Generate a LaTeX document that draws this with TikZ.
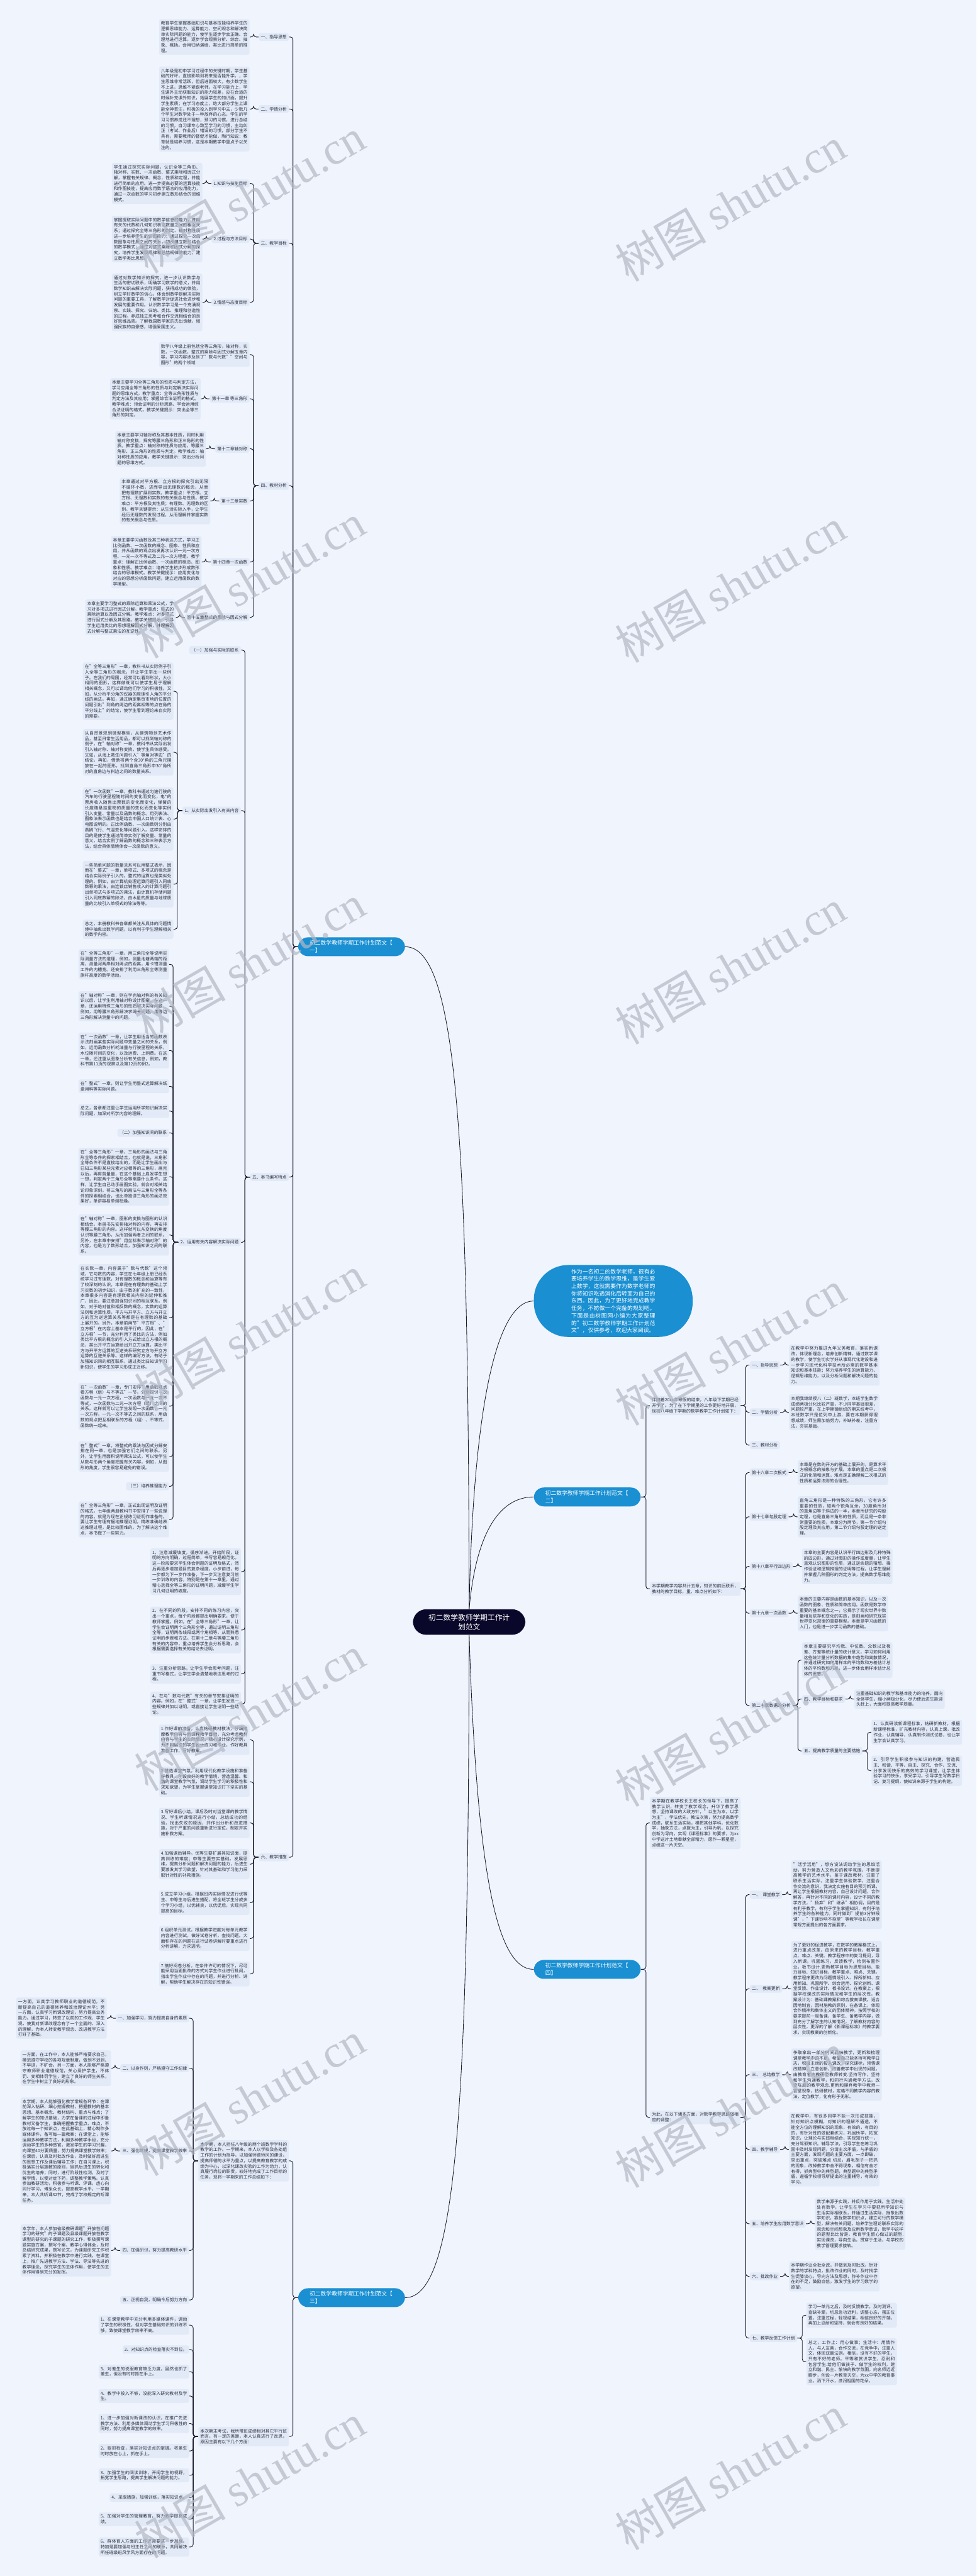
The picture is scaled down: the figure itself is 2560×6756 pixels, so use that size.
\documentclass[tikz,border=0pt]{standalone}
\usepackage{fontspec}
\setmainfont{Noto Sans CJK SC}
\newfontfamily\wmlatin{Liberation Serif}
\XeTeXlinebreaklocale "zh"
\XeTeXlinebreakskip=0pt plus 0.3pt
\usetikzlibrary{calc}
\definecolor{bgc}{RGB}{239,244,253}
\definecolor{boxc}{RGB}{226,234,248}
\definecolor{linec}{RGB}{28,28,48}
\definecolor{txtc}{RGB}{45,45,58}
\definecolor{bluec}{RGB}{26,143,210}
\definecolor{navyc}{RGB}{10,8,42}
\definecolor{wmc}{RGB}{178,183,196}
\newcommand\tfont{\fontsize{3.21pt}{4.09pt}\selectfont\tolerance=10000\hbadness=10000}
\tikzset{
 txt/.style={fill=boxc, rounded corners=0.05cm, text width=2.27cm, align=justify, inner xsep=0.05cm, inner ysep=0.055cm, font=\tfont, text=txtc},
 txs/.style={fill=boxc, rounded corners=0.05cm, inner xsep=0.05cm, inner ysep=0.055cm, font=\tfont, text=txtc},
 lab/.style={fill=boxc, rounded corners=0.05cm, inner xsep=0.055cm, inner ysep=0.05cm, font=\tfont, text=txtc},
 conn/.style={draw=linec, line width=0.45pt, rounded corners=0.07cm},
 mainc/.style={draw=linec, line width=0.4pt},
 bnode/.style={fill=bluec, text=white, rounded corners=0.26cm, text width=2.2cm, align=left, inner xsep=0.3cm, inner ysep=0.08cm, font={\fontsize{4.12pt}{5.69pt}\selectfont}},
 cnode/.style={fill=navyc, text=white, rounded corners=0.35cm, align=center, inner xsep=0.41cm, inner ysep=0.12cm, font={\fontsize{5.5pt}{7.1pt}\selectfont}},
 inode/.style={fill=bluec, text=white, rounded corners=0.9cm, text width=2.2cm, align=justify, inner xsep=0.98cm, inner ysep=0.1cm, font={\fontsize{4.14pt}{5.5pt}\selectfont\tolerance=10000}},
 wm/.style={rotate=30, text=wmc, opacity=0.7, font={\fontsize{34pt}{34pt}\selectfont}}
}
\newcommand\kidL[5]{%
  \path (#1.west) ++(-23,0) coordinate (q#2);
  \node[#4, anchor=east] (#2) at (q#2 |- 0,#3) {#5};
  \draw[conn] (#1.west) -- ++(-13,0) |- (#2.east);
}
\newcommand\kidR[5]{%
  \path (#1.east) ++(23,0) coordinate (q#2);
  \node[#4, anchor=west] (#2) at (q#2 |- 0,#3) {#5};
  \draw[conn] (#1.east) -- ++(13,0) |- (#2.west);
}
\begin{document}
\begin{tikzpicture}[x=0.01cm, y=-0.01cm]
\fill[bgc] (0,0) rectangle (2560,6756);
\useasboundingbox (0,0) rectangle (2560,6756);

% main nodes
\node[cnode] (C) at (1230,4254) {初二数学教师学期工作计\\划范文};
\node[bnode, anchor=west] (B1) at (781,2483) {初二数学教师学期工作计划范文【\\一】};
\node[inode, anchor=west] (I) at (1399,3412) {作为一名初二的数学老师，很有必要培养学生的数学思维，是学生爱上数学，这就需要作为数学老师的你将知识吃透消化后转变为自己的东西。因此，为了更好地完成教学任务，不妨做一个完备的规划吧。下面是由树图网小编为大家整理的"初二数学教师学期工作计划范文"，仅供参考，欢迎大家阅读。};
\node[bnode, anchor=west] (B2) at (1399,3926) {初二数学教师学期工作计划范文【\\二】};
\node[bnode, anchor=west] (B4) at (1399,5165) {初二数学教师学期工作计划范文【\\四】};
\node[bnode, anchor=west] (B3) at (781,6026) {初二数学教师学期工作计划范文【\\三】};

\draw[mainc] (C.north) .. controls (1228,3000) and (1200,2483) .. (B1.east);
\draw[mainc] (C.north) .. controls (1240,3700) and (1300,3412) .. (I.west);
\draw[mainc] (C.north) .. controls (1250,4000) and (1320,3926) .. (B2.west);
\draw[mainc] (C.south) .. controls (1250,4900) and (1300,5165) .. (B4.west);
\draw[mainc] (C.south) .. controls (1228,5500) and (1200,6026) .. (B3.east);

% ===== branch 1 =====
\kidL{B1}{La}{97}{lab}{一、指导思想}
\kidL{La}{Ta}{97}{txt}{教育学生掌握基础知识与基本技能培养学生的逻辑思维能力、运算能力、空间观念和解决简单实际问题的能力，使学生逐步学会正确、合理地进行运算，逐步学会观察分析、综合、抽象、概括。会用归纳演绎、类比进行简单的推理。}
\kidL{B1}{Lb}{286}{lab}{二、学情分析}
\kidL{Lb}{Tb}{286}{txt}{八年级是初中学习过程中的关键时期，学生基础的好坏，直接影响到将来是否能升学。，学生思维非常活跃，但后进面较大，有少数学生不上进，思维不紧跟老师。在学习能力上，学生课外主动获取知识的能力较差，应在合适的时候补充课外知识，拓展学生的知识面，提升学生素质；在学习态度上，绝大部分学生上课能全神贯注，积极的投入到学习中去，少数几个学生对数学处于一种放弃的心态，学生的学习习惯养成还不理想，预习的习惯，进行总结的习惯，自习课专心致至学习的习惯，主动纠正（考试、作业后）错误的习惯，部分学生不具有，需要教师的督促才能做，陶行知说：教育就是培养习惯，这是本期教学中重点予以关注的。}
\kidL{B1}{Lc}{638}{lab}{三、教学目标}
\kidL{Lc}{Lca}{481}{lab}{1.知识与技能目标}
\kidL{Lca}{Tca}{481}{txt}{学生通过探究实际问题，认识全等三角形、轴对称、实数、一次函数、整式乘除和因式分解，掌握有关规律、概念、性质和定理，并能进行简单的应用。进一步提高必要的运算技能和作图技能，提高应用数学语言的应用能力，通过一次函数的学习初步建立数形结合的思维模式。}
\kidL{Lc}{Lcb}{627}{lab}{2.过程与方法目标}
\kidL{Lcb}{Tcb}{627}{txt}{掌握提取实际问题中的数学信息的能力，并用有关的代数和几何知识表达数量之间的相互关系；通过探究全等三角形的判定、轴对称性质进一步培养学生的识图能力；通过探究一次函数图象与性质之间的关系，初步建立数形结合的数学模式；通过对整式乘除和因式分解的探究，培养学生发现规律和总结规律的能力，建立数学类比思想。}
\kidL{Lc}{Lcc}{793}{lab}{3.情感与态度目标}
\kidL{Lcc}{Tcc}{793}{txt}{通过对数学知识的探究，进一步认识数学与生活的密切联系，明确学习数学的意义，并用数学知识去解决实际问题，获得成功的体验，树立学好数学的信心。体会到数学是解决实际问题的重要工具，了解数学对促进社会进步和发展的重要作用。认识数学学习是一个充满观察、实践、探究、归纳、类比、推理和创造性的过程。养成独立思考和合作交流相结合的良好思维品质。了解我国数学家的杰出贡献，增强民族的自豪感，增强爱国主义。}
\kidL{B1}{Ld}{1274}{lab}{四、教材分析}
\kidL{Ld}{Td}{930}{txt}{数学八年级上册包括全等三角形，轴对称，实数，一次函数，整式的乘除与因式分解五章内容，学习内容涉及到了"数与代数""空间与图形"的两个领域}
\kidL{Ld}{Lda}{1046}{lab}{第十一章 等三角形}
\kidL{Lda}{Tda}{1046}{txt}{本章主要学习全等三角形的性质与判定方法，学习应用全等三角形的性质与判定解决实际问题的思维方式。教学重点：全等三角形性质与判定方法及其应用；掌握综合法证明的格式。教学难点：领会证明的分析思路、学会运用综合法证明的格式。教学关键提示：突出全等三角形的判定。}
\kidL{Ld}{Ldb}{1177}{lab}{第十二章轴对称}
\kidL{Ldb}{Tdb}{1177}{txt}{本章主要学习轴对称及其基本性质，同时利用轴对称变换，探究等腰三角形和正三角形的性质。教学重点：轴对称的性质与应用，等腰三角形、正三角形的性质与判定。教学难点：轴对称性质的应用。教学关键提示：突出分析问题的思维方式。}
\kidL{Ld}{Ldc}{1314}{lab}{第十三章实数}
\kidL{Ldc}{Tdc}{1314}{txt}{本章通过对平方根、立方根的探究引出无限不循环小数，进而导出无理数的概念，从而把有理数扩展到实数。教学重点：平方根、立方根、无理数和实数的有关概念与性质。教学难点：平方根及其性质；有理数、无理数的区别。教学关键提示：从生活实际入手，让学生经历无理数的发现过程，从而理解并掌握实数的有关概念与性质。}
\kidL{Ld}{Ldd}{1474}{lab}{第十四章一次函数}
\kidL{Ldd}{Tdd}{1474}{txt}{本章主要学习函数及其三种表达方式，学习正比例函数、一次函数的概念、图象、性质和应用，并从函数的观点出发再次认识一元一次方程、一元一次不等式及二元一次方程组。教学重点：理解正比例函数、一次函数的概念、图象和性质。教学难点：培养学生初步形成数形结合的思维模式。教学关键提示：应用变化与对应的思想分析函数问题，建立运用函数的数学模型。}
\kidL{Ld}{Lde}{1619}{lab}{第十五章整式的乘除与因式分解}
\kidL{Lde}{Tde}{1619}{txt}{本章主要学习整式的乘除运算和乘法公式，学习对多项式进行因式分解。教学重点：整式的乘除运算以及因式分解。教学难点：对多项式进行因式分解及其思路。教学关键提示：引导学生运用类比的思想理解因式分解，并理解因式分解与整式乘法的互逆性。}

\kidL{B1}{Le}{3087}{lab}{五、本书编写特点}
\kidL{Le}{Lea}{1705}{lab}{（一）加强与实际的联系}
\kidL{Le}{Leb}{2126}{lab}{1、从实际出发引入有关内容}
\kidL{Leb}{Teb1}{1813}{txt}{在"全等三角形"一章，教科书从实际例子引入全等三角形的概念，并让学生举出一些例子。在我们的周围，经常可以看到形状，大小相同的图形，这样做既可以使学生易于理解相关概念，又可以调动他们学习的积极性。又如，从分析平分角的仪器的原理引入角的平分线的画法。再如，通过确定集贸市场的位置的问题引出"到角的两边的距离相等的点在角的平分线上"的结论，使学生看到理论来自实际的需要。}
\kidL{Leb}{Teb2}{1973}{txt}{从自然景观到微型模型，从建筑物到艺术作品，甚至日常生活用品，都可以找到轴对称的例子，在"轴对称"一章，教科书从实际出发引入轴对称、轴对称变换，使学生具体感受。又如，从海上救生问题引入"等角对等边"的结论。再如，借助将两个含30°角的三角尺摆放在一起的图形，找到直角三角形中30°角所对的直角边与斜边之间的数量关系。}
\kidL{Leb}{Teb3}{2148}{txt}{在"一次函数"一章，教科书通过匀速行驶的汽车的行驶里程随时间的变化而变化，电*的票房收入随售出票数的变化而变化，弹簧的长度随悬挂重物的质量的变化而变化等实例引入变量、常量以及函数的概念。用列表法、图象法表示函数也是结合中国人口统计表、心电图说明的。正比例函数、一次函数则分别由燕鸥飞行、气温变化等问题引入。这样安排的目的是使学生通过简单实例了解变量、常量的意义，结合实例了解函数的概念和三种表示方法，结合具体情境体会一次函数的意义。}
\kidL{Leb}{Teb4}{2319}{txt}{一些简单问题的数量关系可以用整式表示，因而在"整式"一章，单项式、多项式的概念是结合实际例子引入的。整式的运算也是类似处理的。例如，由计算机处理运算问题引入同底数幂的乘法，由连锁店销售收入的计算问题引出单项式与多项式的乘法，由计算机存储问题引入同底数幂的除法，由木星的质量与地球质量的比较引入单项式的除法等等。}
\kidL{Leb}{Teb5}{2437}{txt}{总之，本册教科书各章都关注从具体的问题情境中抽象出数学问题，以有利于学生理解相关的数学内容。}
\kidL{Le}{Lec}{3258}{lab}{2、运用有关内容解决实际问题}
\kidL{Lec}{Tec1}{2529}{txt}{在"全等三角形"一章，用三角形全等说明实际测量方法的道理，例如，测量池塘两端的距离，测量河两岸相对两点的距离，用卡钳测量工件的内槽宽。还安排了利用三角形全等测量旗杆高度的数学活动。}
\kidL{Lec}{Tec2}{2639}{txt}{在"轴对称"一章，则在学完轴对称的有关知识以后，让学生利用轴对称设计图案。在这一章，还运用特殊三角形的性质解决实际问题，例如，用等腰三角形解决求绳长问题，用等边三角形解决测量中的问题。}
\kidL{Lec}{Tec3}{2755}{txt}{在"一次函数"一章，让学生用适当的函数表示法刻画某些实际问题中变量之间的关系，例如，运用函数分析耗油量与行驶里程的关系，水位随时间的变化，以及运费、上网费。在这一章，还注重从图象分析有关信息，例如，教科书第11页的观察以及第12页的例2。}
\kidL{Lec}{Tec4}{2849}{txt}{在"整式"一章，则让学生用整式运算解决纸盒用料等实际问题。}
\kidL{Lec}{Tec5}{2914}{txt}{总之，各章都注重让学生运用所学知识解决实际问题，加深对所学内容的理解。}
\kidL{Lec}{Lec6}{2971}{lab}{（二）加强知识间的联系}
\kidL{Lec}{Tec7}{3086}{txt}{在"全等三角形"一章，三角形的画法与三角形全等条件的探索相结合，也就是说，三角形全等条件不是直接给出的，而是让学生画出与已知三角形某些元素对应相等的三角形，画完以后，再剪剪量量，在这个基础上启发学生想一想，判定两个三角形全等需要什么条件。这样，让学生自己动手画图实验，就会对相关结论印象深刻。将三角形的画法与三角形全等条件的探索相结合，也比单独讲三角形的画法效果好，单讲容易单调枯燥。}
\kidL{Lec}{Tec8}{3239}{txt}{在"轴对称"一章，图形的变换与图形的认识相结合。本册书先安排轴对称的内容，再安排等腰三角形的内容。这样就可以从变换的角度认识等腰三角形，从而加强两者之间的联系。另外，在本章中安排"用坐标表示轴对称"的内容，也是为了数形结合，加强知识之间的联系。}
\kidL{Lec}{Tec9}{3456}{txt}{在实数一章，内容属于"数与代数"这个领域，它与数的内容，学生在七年级上册已经系统学习过有理数，对有理数的概念和运算等有了较深刻的认识，本章是在有理数的基础上学习实数的初步知识，由于数的扩充的一致性，本章很多内容是有理数相关内容的延伸和推广，因此，要注意加强知识间的相互联系。例如，对于绝对值和相反数的概念，实数的运算法则和运算性质，平方与开平方、立方与开立方的互为逆运算关系等都是在有理数的基础上展开的。另外，本章前两节"平方根"、"立方根"在内容上基本是平行的，因此，在"立方根"一节，充分利用了类比的方法，例如类比平方根的概念的引入方式给出立方根的概念，类比开平方运算给出开立方运算，类比平方与开平方运算的互逆关系研究立方与开立方运算的互逆关系等。这样的编写方法，有助于加强知识间的相互联系，通过类比旧知识学习新知识，使学生的学习形成正迁移。}
\kidL{Lec}{Tec10}{3688}{txt}{在"一次函数"一章，专门安排"用函数观点看方程（组）与不等式"一节，分别探讨一次函数与一元一次方程，一次函数与一元一次不等式，一次函数与二元一次方程（组）之间的关系。这样就可以让学生发现一次函数，一元一次方程，一元一次不等式之间的联系，用函数的观点把互相联系的方程（组）、不等式、函数统一起来。}
\kidL{Lec}{Tec11}{3820}{txt}{在"整式"一章，将整式的乘法与因式分解安排在同一章，也是加强它们之间的联系。另外，让学生用面积说明乘法公式，可以使学生从数与形两个角度把握有关内容，例如，从图形的角度，学生很容易避免的错误。}
\kidL{Lec}{Lec12}{3898}{lab}{（三）培养推理能力}
\kidL{Lec}{Tec13}{3985}{txt}{在"全等三角形"一章，正式出现证明及证明的格式。七年级两册教科书中安排了一些说理的内容，就是为现在正规练习证明作准备的。要让学生有理有据地推理证明，精练准确地表达推理过程，是比较困难的。为了解决这个难点，本书做了一些努力。}
\kidL{Le}{Ted1}{4122}{txt}{1、注意减缓坡度，循序渐进。开始阶段，证明的方向明确，过程简单，书写容易规范化。这一阶段要求学生体会例题的证明及格式，然后再逐步增加题目的复杂程度，小步前进，每一步都为下一步作准备，下一步又注意复习前一步训练的内容。特别是在第十一章里，通过精心选择全等三角形的证明问题，减缓学生学习几何证明的坡度。}
\kidL{Le}{Ted2}{4275}{txt}{2、在不同的阶段，安排不同的练习内容，突出一个重点，每个阶段都提出明确要求，便于教师掌握。例如，在"全等三角形"一章，让学生会证明两个三角形全等，通过证明三角形全等，证明两条线段或两个角相等，从而熟悉证明的步骤和方法。在第十二章与等腰三角形有关的内容中，重点培养学生会分析思路，会根据需要选择有关的结论去证明。}
\kidL{Le}{Ted3}{4390}{txt}{3、注重分析思路，让学生学会思考问题，注重书写格式，让学生学会清楚地表达思考的过程。}
\kidL{Le}{Ted4}{4469}{txt}{4、在与"数与代数"有关的章节安排证明的内容。例如，在"整式"一章，让学生发现一些规律并加以证明，或直接让学生证明一些结论。}

\kidL{B1}{Lf}{4871}{lab}{六、教学措施}
\kidL{Lf}{Tf1}{4563}{txt}{1.作好课前准备。认真钻研教材教法，仔细揣摩教学内容与新课程教学目标，充分考虑教材内容与学生的实际情况，精心设计探究示例，为不同层次的学生设计练习和作业，作好教具准备工作，写好教案。}
\kidL{Lf}{Tf2}{4673}{txt}{2.营造课堂气氛。利用现代化教学设施和准备好教具，创设良好的教学情境，营造温馨、和谐的课堂教学气氛，调动学生学习的积极性和求知欲望，为学生掌握课堂知识打下坚实的基础。}
\kidL{Lf}{Tf3}{4781}{txt}{3.写好课后小结。课后及时对当堂课的教学情况、学生听课情况进行小结，总结成功的经验，找出失败的原因，并作出分析和改进措施，对于严重的问题重新进行定位，制定并实施补救方案。}
\kidL{Lf}{Tf4}{4889}{txt}{4.加强课后辅导。优等生要扩展其知识面，提高训练的难度；中等生要夯实基础，发展思维，提高分析问题和解决问题的能力，后进生要激发其学习欲望，针对其基础和学习能力采取针对性的补救措施。}
\kidL{Lf}{Tf5}{4990}{txt}{5.成立学习小组。根据班内实际情况进行优等生、中等生与后进生搭配，将全班学生分成多个学习小组，以优辅良，以优促后，实现共同提高的目标。}
\kidL{Lf}{Tf6}{5084}{txt}{6.组织单元测试。根据教学进度对每单元教学内容进行测试，做好试卷分析，查找问题。大面积存在的问题在进行试卷讲解时要重点进行分析讲解，力求透彻。}
\kidL{Lf}{Tf7}{5177}{txt}{7.搞好阅卷分析。在条件许可的情况下，尽可能采用当面批改的方式对学生作业进行批阅，指出学生作业中存在的问题，并进行分析、讲解，帮助学生解决存在的知识性错误。}

% ===== branch 2 =====
\kidR{B2}{Ha}{3686}{txt}{伴随着20xx年寒假的结束，八年级下学期已经开学了。为了在下学期里的工作更好地开展，现将八年级下学期的数学教学工作计划如下：}
\kidR{Ha}{Ha1}{3580}{lab}{一、指导思想}
\kidR{Ha1}{Tha1}{3580}{txt}{在教学中努力推进九年义务教育，落实新课改，体现新理念，培养创新精神。通过数学课的教学，使学生切实学好从事现代化建设和进一步学习现代化科学技术所必需的数学基本知识和基本技能；努力培养学生的运算能力、逻辑思维能力，以及分析问题和解决问题的能力。}
\kidR{Ha}{Ha2}{3704}{lab}{二、学情分析}
\kidR{Ha2}{Tha2}{3704}{txt}{本期我继续授八（二）班数学，本班学生数学成绩两极分化比较严重，不少同学基础很差，问题较严重。在上学期镇组织的期末统考中，本班数学只是位列中上游，要在本期获得理想成绩，师生需加倍努力，补缺补差，注重方法，夯实基础。}
\kidR{Ha}{Ha3}{3790}{lab}{三、教材分析}
\kidR{B2}{Hb}{4167}{txt}{本学期教学内容共计五章，知识的前后联系，教材的教学目标，重、难点分析如下：}
\kidR{Hb}{Hb1}{3862}{lab}{第十六章二次根式}
\kidR{Hb1}{Thb1}{3862}{txt}{本章是在数的开方的基础上展开的，是算术平方根概念的抽象与扩展。本章的重点是二次根式的化简和运算，难点是正确理解二次根式的性质和运算法则的合理性。}
\kidR{Hb}{Hb2}{3978}{lab}{第十七章勾股定理}
\kidR{Hb2}{Thb2}{3978}{txt}{直角三角形是一种特殊的三角形，它有许多重要的性质，如两个锐角互余，30度角所对的直角边等于斜边的一半，本章所研究的勾股定理，也是直角三角形的性质，而且是一条非常重要的性质，本章分为两节，第一节介绍勾股定理及其应用，第二节介绍勾股定理的逆定理。}
\kidR{Hb}{Hb3}{4108}{lab}{第十八章平行四边形}
\kidR{Hb3}{Thb3}{4108}{txt}{本章的主要内容是认识平行四边形及几种特殊的四边形，通过对图形的操作或度量，让学生直观认识图形的性质，通过逆命题的猜想、操作验证和逻辑推理的证明等过程，让学生理解并掌握几种图形的判定方法，提高数学思维能力。}
\kidR{Hb}{Hb4}{4231}{lab}{第十九章一次函数}
\kidR{Hb4}{Thb4}{4231}{txt}{本章的主要内容是函数的基本知识，以及一次函数的图象、性质和简单应用。函数是数学中重要的基本概念之一，它揭示了现实世界中数量相互依存和变化的实质，是刻画和研究现实世界变化规律的重要模型。本章是学习函数的入门，也是进一步学习函数的基础。}
\kidR{Hb}{Hb5}{4473}{lab}{第二十章数据的分析}
\kidR{Hb5}{Thb5}{4354}{txt}{本章主要研究平均数、中位数、众数以及极差、方差等统计量的统计意义，学习如何利用这些统计量分析数据的集中趋势和离散情况，并通过研究如何用样本的平均数和方差估计总体的平均数和方差，进一步体会用样本估计总体的思想。}
\kidR{Hb5}{Hb5a}{4456}{lab}{四、教学目标和要求}
\kidR{Hb5a}{Thb5a}{4456}{txt}{注重基础知识的教学和基本能力的培养，面向全体学生，缩小两极分化，尽力使后进生能迎头赶上，大面积提高教学质量。}
\kidR{Hb5}{Hb5b}{4592}{lab}{五、提高教学质量的主要措施}
\kidR{Hb5b}{Thb5b}{4543}{txt}{1、认真研读新课程标准，钻研新教材，根据新课程标准，扩充教材内容，认真上课，批改作业，认真辅导，认真制作测试试卷，也让学生学会认真学习。}
\kidR{Hb5b}{Thb5c}{4644}{txt}{2、引导学生积极参与知识的构建，营造民主、和谐、平等、自主、探究、合作、交流、分享发现快乐的高效的学习课堂，让学生体验学习的快乐，享受学习。引导学生写数学日记、复习提纲，使知识来源于学生的构建。}

% ===== branch 4 (right bottom) =====
\kidR{B4}{Ka}{4781}{txt}{本学期在教学校长王校长的领导下，提高了教学认识，转变了教学观念，升华了教学思想，坚持课改的大政方针，"以生为本，以学为主"，学法优先，教法次第，努力提高数学成绩，联系生活实际，横贯其他学科，优化数学，抽象方法，点拨为主，引导为帆，以探究创新为导向，实现《课程标准》的要求，为xx中学这片土地奉献全部精力，愿作一颗星星，点缀这一片天空。}
\kidR{B4}{Kb}{5553}{txt}{为此，在以下诸多方面，对数学教学思路做相应的调整：}
\kidR{Kb}{Kb1}{4969}{lab}{一、\enspace 课堂教学}
\kidR{Kb1}{Tkb1}{4969}{txt}{"活学活用"，想方设法调动学生的思维活动，努力营造人文色彩的教学氛围，不断提高教学的艺术水平。鉴于课改教材，注重了联系生活实际，注重学生体验数学，注重合作交流的意识，我决定实施有目的预习新课，再让学生根据教材内容，自己设计问题，合作解答，再针对不同的课时内容，设计不同的教学方法，"扬弃"和"继承"相协调，目的是有利于教学，有利于学生掌握知识，有利于培养学生的各种能力。同时做到"提前3分钟候课"，"下课铃响不拖堂"等教学校长在课堂常规方面提出的各方面要求。}
\kidR{Kb}{Kb2}{5216}{lab}{二、\enspace 教案更新}
\kidR{Kb2}{Tkb2}{5216}{txt}{为了更好的促进教学，在数学的教案格式上，进行重点改革，由原来的教学目标，教学重点、难点、关键、教学程序中的复习提问，导入新课，巩固练习，反馈教学，检测布置作业，板书设计.更新教学目标为思想目标、能力目标、知识目标、教学重点、难点、关键。教学程序更改为问题情境引入、探所新知、应用新知、巩固所学、综合运用、探究创新、课堂反馈、作业设计、板书设计。在教案上，根据学校课改的实际情况和学生的层次性，教案设计为：基础课教案和综合拔高课教。适合因地制宜，因材施教的原则，在备课上，体现合作精神和集体主义的团体精神。按照学校的要求提前一周备课，备学生、备教学内容，做到充分了解学生的认知情况，了解教材内容的层次性，更深的了解《新课程标准》的教学要求，实现教案的创新化。}
\kidR{Kb}{Kb3}{5441}{lab}{三、\enspace 总结教学}
\kidR{Kb3}{Tkb3}{5441}{txt}{争取拿出一部分时间品味教学，更新和梳理课堂教学中的不足，希望自己能坚持写教学日志，积极主动的投入课改，探究课标，领悟课改精神，立意创新，改善教学中出现的问题，由教育者向教研型教师转变.坚持写作，坚持和学生沟通教学，和同行沟通教学方法，改变陈腐的教学观念.更新和摒弃教学中教师一言堂现象，钻研教材，定格不同教学内容的教法，定位教学，化有形于无形。}
\kidR{Kb}{Kb4}{5637}{lab}{四、教学辅导}
\kidR{Kb4}{Tkb4}{5637}{txt}{在教学中，有很多同学不能一次形成技能，针对知识点模糊，对知识的理解不通透，不能全方位的理解知识的现象，有效的，有目的的，有针对性的做配套练习，巩固所学，拓宽知识，让理论与实践相结合，实现知行统一，充分驾驭知识。辅导学法，引导学生在练习巩固中及时发现问题，分清主次矛盾，与矛盾的主要方面，发现问题的主要方面，一点即破，突出重点，突破难点.切忌，眉毛胡子一把抓的现象，改掉教学中舍不得现象，相信有舍才有得，抓典型中的典型题，典型题中的典型矛盾，遵循学校领导所提出的注重辅导，有效的学习。}
\kidR{Kb}{Kb5}{5832}{lab}{五、培养学生应用数学意识}
\kidR{Kb5}{Tkb5}{5832}{txt}{数学来源于实践，并反作用于实践。生活中处处有数学，让学生在学习中要把所学知识与生活实际相联系，并通过生活实际，抽象出数学知识，靠拢数学知识点，建立可行的数学模型，解决有关问题。培养学生理论联系实际的观念和空间想象及应用数学意识，数学中这样的题型比比皆是，教育学生留心做过的题型.实现课改，导向生活，贯穿于生活，与学校的教学管理要求接轨。}
\kidR{Kb}{Kb6}{5970}{lab}{六、批改作业}
\kidR{Kb6}{Tkb6}{5970}{txt}{本学期作业全批全改，并做到及时批改。针对数学的学科特点，批改作业的同时，及时找学生促膝谈心，导向方法及思想，弥补作业中存在的不足，鼓励自信，激发学生的学习数学的欲望。}
\kidR{Kb}{Kb7}{6132}{lab}{七、教学反馈工作计划}
\kidR{Kb7}{Tkb7a}{6072}{txt}{学习一单元之后，及时反馈教学，及时测评，查缺补漏，切忌急功近利，调整心态，摆正位置，注重过程，轻视结果，相信良好的开端，再加上忍耐和坚持，就会有良好的结果。}
\kidR{Kb7}{Tkb7b}{6194}{txt}{总之，工作上：用心做事；生活中：用情作人。与人友善，合作交流，在竞争中，注重人文，体现双赢法则。相信，没有不好的学生，只有不好的老师。平等和赏识学生，忍耐和包容学生.给他们做孩子、做学生的权利，建立和谐、民主、愉快的教学氛围。向名师迈近脚步，创设一片教育天空，为xx中学的教育事业，洒下汗水，滋润祖国的花朵。}

% ===== branch 3 (left bottom) =====
\kidL{B3}{Ga}{5667}{txt}{本学期，本人担任八年级的两个班数学学科的教学的工作。一学期来，本人以学校及各处组工作的计划为指导，以加强师德师风的建设，提高师德的水平为重点，以提高教育教学的成绩为中心，以深化课改实验的工作为动力，认真履行岗位的职责，较好地完成了工作目标的任务，现将一学期来的工作总结如下：}
\kidL{Ga}{Ga1}{5293}{lab}{一、加强学习，努力提高自身的素质}
\kidL{Ga1}{Tga1}{5293}{txt}{一方面，认真学习教师职业的道德规范，不断提高自己的道德修养和政治理论水平；另一方面，认真学习新课改理论，努力提高业务能力。通过学习，转变了以前的工作观、学生观，使我对新课改理念有了一个全面的、深入的理解，为本人转变教学观念、改进教学方法打好了基础。}
\kidL{Ga}{Ga2}{5424}{lab}{二、以身作则，严格遵守工作纪律}
\kidL{Ga2}{Tga2}{5424}{txt}{一方面，在工作中，本人能够严格要求自己，模范遵守学校的各项规章制度，做到不迟到、不早退，不旷会。另一方面，本人能够严格遵守教师职业道德规范，关心爱护学生，不体罚、变相体罚学生，建立了良好的师生关系，在学生中树立了良好的形象。}
\kidL{Ga}{Ga3}{5641}{lab}{三、强化常规，提高课堂教学效率}
\kidL{Ga3}{Tga3}{5641}{txt}{本学期，本人能够强化教学常规各环节：在课前深入钻研、细心挖掘教材，把握教材的基本思想、基本概念、教材结构、重点与难点；了解学生的知识基础，力求在备课的过程中即备教材又备学生，准确把握教学重点、难点，不放过每一个知识点，在此基础上，精心制作多媒体课件，备写每一篇教案；在课堂上，能够运用多种教学方法，利用多种教学手段，充分调动学生的多种感官，激发学生的学习兴趣，向课堂40分要质量，努力提高课堂教学效率；在课后，认真及时批改作业，及时做好后进生的思想工作及课后辅导工作；在自习课上，积极落实分层施教的原则，狠抓后进生的转化和优生的培养；同时，进行阶段性检测，及时了解学情，以便对症下药，调整教学策略。认真参加教研活动，积极参与听课、评课，虚心向同行学习，博采众长，提高教学水平。一学期来，本人共听课32节，完成了学校规定的听课任务。}
\kidL{Ga}{Ga4}{5902}{lab}{四、加强研讨，努力提高教研水平}
\kidL{Ga4}{Tga4}{5902}{txt}{本学年，本人参加省级教研课题"开放性问题学习的研究"的子课题及县级课题开放性教学课型的研究的子课题的研究工作，积极撰写课题实施方案，撰写个案、教学心得体会，及时总结研究成果，撰写论文，为课题研究工作积累了资料，并积极在教学中进行实践。在课堂上，推广先进教学方法、学法、导法等先进的教学理念，探究学生的主体作用，使学生的主体作用得到充分的发挥。}
\kidL{Ga}{Ga5}{6032}{lab}{五、正视自我，明确今后努力方向}
\kidL{B3}{Gb}{6390}{txt}{本次期末考试，我所带班成绩相对其它平行班而言，有一定的差距，本人认真进行了反思，原因主要有以下几个方面：}
\kidL{Gb}{Gb1}{6098}{txt}{1、在课堂教学中充分利用多媒体课件，调动了学生的积极性，但对学生基础知识的训练不够，致使课堂教学效率不高。}
\kidL{Gb}{Gb2}{6162}{txs}{2、对知识点的检查落实不到位。}
\kidL{Gb}{Gb3}{6220}{txt}{3、对差生的说服教育缺乏力度，虽然也抓了差生，但没有时时抓在手上。}
\kidL{Gb}{Gb4}{6284}{txt}{4、教学中投入不够，没能深入研究教材及学生。}
\kidL{Gb}{Gb5}{6356}{txt}{1、进一步加强对新课改的认识，在推广先进教学方法、利用多媒体调动学生学习积极性的同时，努力提高课堂教学的效率。}
\kidL{Gb}{Gb6}{6428}{txt}{2、狠抓检查，落实对知识点的掌握。将差生时时放在心上，抓在手上。}
\kidL{Gb}{Gb7}{6492}{txt}{3、加强学生的阅读训练，开阔学生的视野，拓宽学生思路，提高学生解决问题的能力。}
\kidL{Gb}{Gb8}{6550}{txs}{4、采取措施，加强训练，落实知识点。}
\kidL{Gb}{Gb9}{6607}{txt}{5、加强对学生的管理教育，努力教学提高成绩。}
\kidL{Gb}{Gb10}{6680}{txt}{6、群体育人方面的工作还需要进一步加强。特加是要加强与班主任之间的联系，共同解决所任班级班风学风方面存在的问题。}

% ===== watermarks =====
\foreach \wy in {513,1523,2523,3497,4493,5503,6506}{
  \node[wm] at (655,\wy) {树图 {\wmlatin shutu.cn}};
}
\foreach \wy in {535,1535,2535,3535,4535,5535,6485}{
  \node[wm] at (1915,\wy) {树图 {\wmlatin shutu.cn}};
}
\end{tikzpicture}
\end{document}
